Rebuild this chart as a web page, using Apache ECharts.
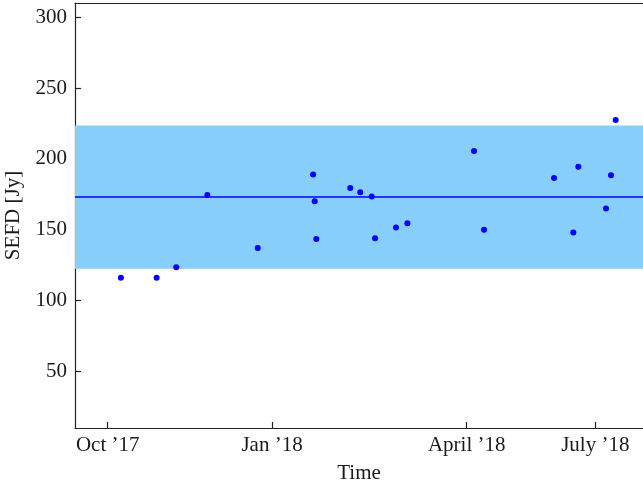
<!DOCTYPE html>
<html><head><meta charset="utf-8">
<script src="https://cdn.jsdelivr.net/npm/echarts@6/dist/echarts.min.js"></script>
<style>html,body{margin:0;padding:0;background:#fff}#c{width:643px;height:480px}</style>
</head><body><div id="c"></div>
<script>
// x: days since 1 Oct 2017 (as placed on the reference axis)
const obsDays = [7.4, 27.4, 38.4, 55.8, 84, 115, 115.9, 116.8, 135.8, 141.4, 147.8, 149.7, 161.4, 167.8, 205.1, 210.7, 249.9, 260.7, 263.5, 279, 281.8, 284.4];
const sefd    = [116, 116, 123.5, 174.5, 137, 189, 170, 143.5, 179.5, 176.5, 173.5, 144, 151.5, 154.5, 205.5, 150, 186.5, 148, 194.5, 165, 188.5, 227.5];
const meanSefd = 173;
const bandLow = 122.5, bandHigh = 223.5;
const xTickPos = [0, 92, 201, 273];
const xTickLabels = ["Oct \u201917", "Jan \u201918", "April \u201918", "July \u201918"];
const yTicks = [50, 100, 150, 200, 250, 300];

const font = '"Liberation Serif", "DejaVu Serif", serif';
const chart = echarts.init(document.getElementById('c'), null, {renderer: 'canvas'});
chart.setOption({
  animation: false,
  grid: {left: 75, right: 0, top: 3, bottom: 52, containLabel: false, outerBoundsMode: 'none'},
  xAxis: [{
    type: 'value', min: -18.3, max: 299.7,
    name: 'Time', nameLocation: 'middle', nameGap: 35,
    nameTextStyle: {fontFamily: font, fontSize: 21, color: '#1a1a1a'},
    axisLine: {show: true, onZero: false, lineStyle: {color: '#222', width: 1.2}},
    axisTick: {show: true, inside: true, length: 6, customValues: xTickPos, lineStyle: {color: '#222', width: 1.2}},
    axisLabel: {customValues: xTickPos, formatter: v => xTickLabels[xTickPos.indexOf(v)] || '',
      fontFamily: font, fontSize: 21, color: '#1a1a1a', margin: 7},
    splitLine: {show: false}
  }, {
    type: 'value', position: 'top', min: -18.3, max: 299.7,
    axisLine: {show: true, onZero: false, lineStyle: {color: '#222', width: 1.2}},
    axisTick: {show: false}, axisLabel: {show: false}, splitLine: {show: false}
  }],
  yAxis: {
    type: 'value', min: 10, max: 310,
    name: 'SEFD [Jy]', nameLocation: 'middle', nameGap: 51, nameRotate: 90,
    nameTextStyle: {fontFamily: font, fontSize: 21, color: '#1a1a1a'},
    axisLine: {show: true, onZero: false, lineStyle: {color: '#222', width: 1.2}},
    axisTick: {show: true, inside: true, length: 6, customValues: yTicks, lineStyle: {color: '#222', width: 1.2}},
    axisLabel: {customValues: yTicks, fontFamily: font, fontSize: 21, color: '#1a1a1a', margin: 8},
    splitLine: {show: false}
  },
  series: [{
    type: 'scatter',
    data: obsDays.map((d, i) => [d, sefd[i]]),
    symbolSize: 6,
    itemStyle: {color: '#0000ff', opacity: 1},
    z: 5,
    markArea: {
      silent: true,
      itemStyle: {color: '#87cefa', opacity: 1},
      data: [[{yAxis: bandLow}, {yAxis: bandHigh}]]
    },
    markLine: {
      silent: true, symbol: 'none', label: {show: false},
      lineStyle: {color: '#0000ff', width: 1.5, type: 'solid', opacity: 1},
      data: [{yAxis: meanSefd}]
    }
  }]
});
</script></body></html>
